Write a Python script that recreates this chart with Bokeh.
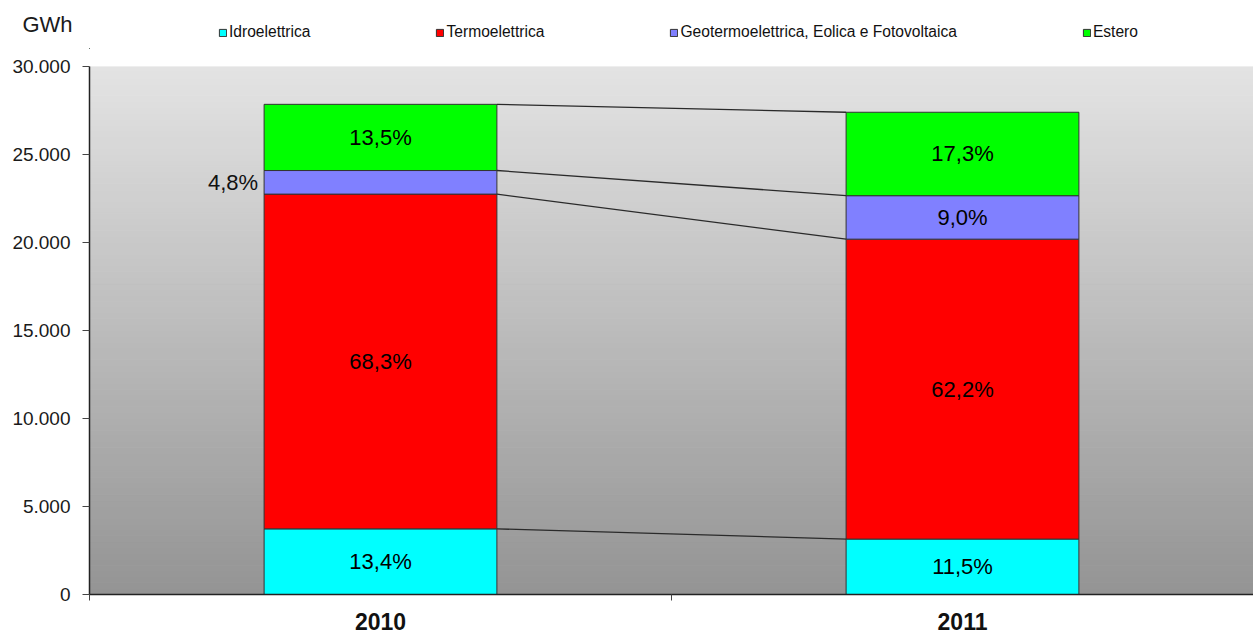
from bokeh.plotting import figure
from bokeh.models import (ColumnDataSource, FixedTicker, Legend, LegendItem,
                          Range1d)
from bokeh.layouts import column
from bokeh.core.properties import value
from bokeh.embed import file_html
from bokeh.resources import INLINE
import numpy as np

# ---------------- data ----------------
years = ["2010", "2011"]
series = ["Idroelettrica", "Termoelettrica",
          "Geotermoelettrica, Eolica e Fotovoltaica", "Estero"]
idro = [3730, 3150]
termo = [19020, 17040]
geo = [1340, 2470]
estero = [3760, 4740]
pct_2010 = ["13,4%", "68,3%", "4,8%", "13,5%"]
pct_2011 = ["11,5%", "62,2%", "9,0%", "17,3%"]
y_ticks = [0, 5000, 10000, 15000, 20000, 25000, 30000]
y_tick_labels = ["0", "5.000", "10.000", "15.000", "20.000", "25.000", "30.000"]
unit_label = "GWh"
colors = ["#00ffff", "#ff0000", "#8080ff", "#00ff00"]

SANS = "Liberation Sans"
W, H = 1253, 637
HEAD_H = 56
HEAD_BOTTOM = 8
LEFT = 89

# ---------------- main chart ----------------
p = figure(width=W, height=H - HEAD_H, output_backend="svg", toolbar_location=None,
           x_range=Range1d(0, 2), y_range=Range1d(0, 30000),
           min_border_left=LEFT, min_border_right=0, min_border_top=10,
           min_border_bottom=43)
p.background_fill_color = "white"
p.border_fill_color = "white"
p.outline_line_color = None
p.xgrid.visible = False
p.ygrid.visible = False

# background gradient (style only)
nb = 90
edges = np.linspace(0, 30000, nb + 1)
top_c = np.array([0xe4, 0xe4, 0xe4])
bot_c = np.array([0x94, 0x94, 0x94])
bg_cols = []
for i in range(nb):
    t = (i + 0.5) / nb
    c = (bot_c + (top_c - bot_c) * t).astype(int)
    bg_cols.append("#%02x%02x%02x" % tuple(c))
p.quad(left=0, right=2, bottom=edges[:-1], top=edges[1:], fill_color=bg_cols,
       line_color=bg_cols, line_width=1)

# stacked bars
xpos = [0.5, 1.5]
bw = 0.4
src = ColumnDataSource(dict(x=xpos, idro=idro, termo=termo, geo=geo, estero=estero))
keys = ["idro", "termo", "geo", "estero"]
p.vbar_stack(keys, x="x", width=bw, source=src, fill_color=colors,
             line_color="#333333", line_width=1)

vals = np.array([idro, termo, geo, estero], dtype=float)  # shape (4, 2)
cum = np.cumsum(vals, axis=0)
bottoms = cum - vals

# connecting lines
p.segment(x0=[xpos[0] + bw / 2] * 4, y0=list(cum[:, 0]),
          x1=[xpos[1] - bw / 2] * 4, y1=list(cum[:, 1]),
          line_color="#2a2a2a", line_width=1.3)

# percentage labels
pcts = [pct_2010, pct_2011]
for j in range(2):
    for i in range(4):
        mid = bottoms[i, j] + vals[i, j] / 2
        if vals[i, j] < 1800:
            p.text(x=[xpos[j] - bw / 2], y=[mid], text=[pcts[j][i]],
                   text_align="right", text_baseline="middle", x_offset=-6,
                   text_font=value(SANS), text_font_size="22px",
                   text_color="#111111")
        else:
            p.text(x=[xpos[j]], y=[mid], text=[pcts[j][i]],
                   text_align="center", text_baseline="middle",
                   text_font=value(SANS), text_font_size="22px",
                   text_color="#000000")

# axes
ya = p.yaxis[0]
ya.ticker = FixedTicker(ticks=y_ticks, minor_ticks=[])
ya.major_label_overrides = {t: l for t, l in zip(y_ticks, y_tick_labels)}
ya.major_tick_out = 7
ya.major_tick_in = 0
ya.minor_tick_out = 0
ya.minor_tick_in = 0
ya.major_label_standoff = 12
ya.major_label_text_font = SANS
ya.major_label_text_font_size = "19px"
ya.major_label_text_color = "#1a1a1a"
ya.axis_line_color = "#222222"
ya.axis_line_width = 1.5
ya.major_tick_line_color = "#444444"

xa = p.xaxis[0]
xa.ticker = FixedTicker(ticks=xpos, minor_ticks=[0, 1, 2])
xa.major_label_overrides = {xpos[0]: years[0], xpos[1]: years[1]}
xa.major_tick_out = 0
xa.major_tick_in = 0
xa.minor_tick_out = 6
xa.minor_tick_in = 0
xa.minor_tick_line_color = "#444444"
xa.major_label_standoff = 12
xa.major_label_text_font = SANS
xa.major_label_text_font_style = "bold"
xa.major_label_text_font_size = "23px"
xa.major_label_text_color = "#111111"
xa.axis_line_color = "#222222"
xa.axis_line_width = 1.5

# ---------------- header: unit label + legend ----------------
head = figure(width=W, height=HEAD_H, output_backend="svg", toolbar_location=None,
              x_range=Range1d(0, 1), y_range=Range1d(0, 1),
              x_axis_location=None,
              min_border_left=LEFT, min_border_right=0, min_border_top=0,
              min_border_bottom=HEAD_BOTTOM)
head.grid.visible = False
head.outline_line_color = None
head.background_fill_color = "white"
head.border_fill_color = "white"

hy = head.yaxis[0]
hy.ticker = FixedTicker(ticks=[], minor_ticks=[])
hy.axis_line_color = "white"
hy.axis_line_alpha = 0
hy.major_tick_line_color = "white"
hy.minor_tick_line_color = "white"
hy.major_tick_out = 0
hy.minor_tick_out = 0
hy.major_label_text_font_size = "0px"
hy.axis_label = unit_label
hy.axis_label_orientation = "horizontal"
hy.axis_label_text_font = SANS
hy.axis_label_text_font_size = "22px"
hy.axis_label_text_font_style = "normal"
hy.axis_label_text_color = "#1a1a1a"
hy.axis_label_standoff = 17

# legend renderers: data placed outside the visible range
off = ColumnDataSource(dict(x=[-10.0], top=[-5.0]))
legend_rs = [head.vbar(x="x", top="top", bottom=-6.0, width=0.1, source=off,
                       fill_color=colors[i], line_color="#333333", line_width=1)
             for i in range(4)]
items = [LegendItem(label=series[i], renderers=[legend_rs[i]]) for i in range(4)]
legend = Legend(items=items, orientation="horizontal",
                location=(218 - LEFT, 15 - HEAD_BOTTOM),
                glyph_width=9, glyph_height=9, label_standoff=2, spacing=125,
                padding=0, margin=0, border_line_color=None,
                background_fill_alpha=0, label_text_font=SANS,
                label_text_font_size="15.6px", label_text_color="#111111",
                label_height=17)
head.add_layout(legend, "center")

layout = column(head, p, spacing=0)
open("out.html", "w").write(file_html(layout, INLINE))
